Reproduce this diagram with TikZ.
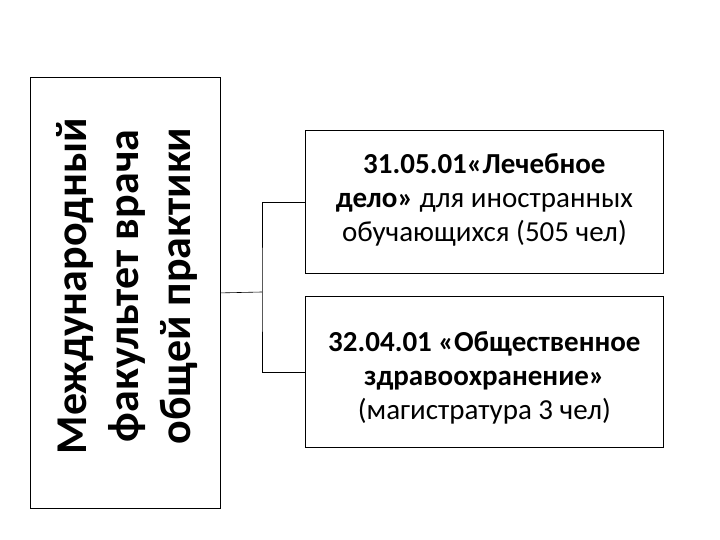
\documentclass[tikz,border=0pt]{standalone}
\usepackage{fontspec}
\setmainfont{Carlito}
\begin{document}
\begin{tikzpicture}[x=1pt,y=-1pt,
  box/.style={draw,line width=0.8pt,inner sep=0pt},
  conn/.style={draw,line width=0.6pt}]
\useasboundingbox (0,0) rectangle (720,540);
\node[box,minimum width=190,minimum height=431,anchor=north west] (L) at (30,77) {};
\node[rotate=90,align=center,font=\fontsize{44}{52}\selectfont\bfseries] (Lt) at (127,286) {Международный\\факультет врача\\общей практики};
\node[box,minimum width=358,minimum height=143,anchor=north west] (A) at (305,130) {};
\node[align=center,font=\fontsize{29}{34}\selectfont] (At) at ([yshift=2]A.center) {\textbf{31.05.01«Лечебное}\\\textbf{дело»} для иностранных\\обучающихся (505 чел)};
\node[box,minimum width=358,minimum height=151,anchor=north west] (B) at (305,296) {};
\node[align=center,font=\fontsize{29}{34}\selectfont] (Bt) at ([yshift=-6]B.center) {\textbf{32.04.01 «Общественное}\\\textbf{здравоохранение»}\\(магистратура 3 чел)};
\coordinate (J) at (262,292);
\draw[conn] (L.east) -- (J);
\draw[conn] (A.west) -| (J) |- (B.west);
\end{tikzpicture}
\end{document}
